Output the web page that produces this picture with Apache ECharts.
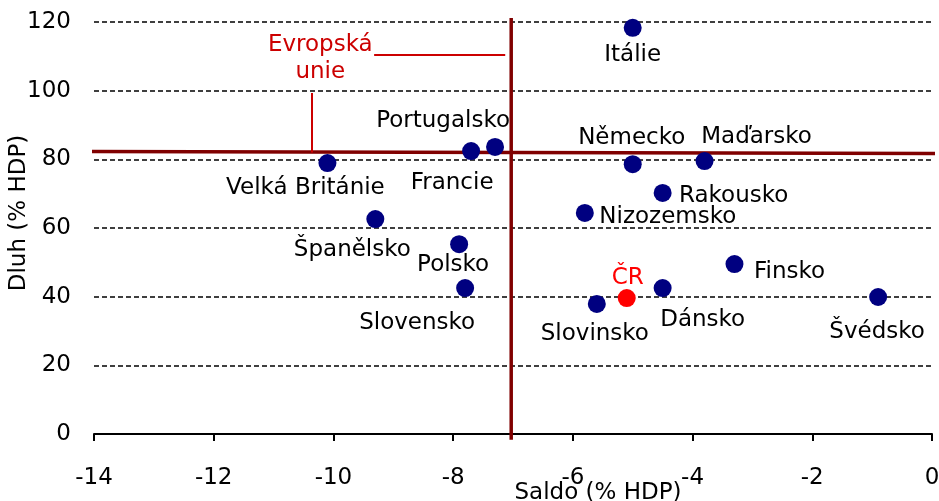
<!DOCTYPE html>
<html>
<head>
<meta charset="utf-8">
<script src="https://cdn.jsdelivr.net/npm/echarts@6/dist/echarts.min.js"></script>
<style>
  html, body { margin: 0; padding: 0; background: #fff; }
  #chart { width: 939px; height: 501px; }
</style>
</head>
<body>
<div id="chart"></div>
<script>
// countries: saldo (x) vs dluh (y), % HDP
const countries = ['Itálie', 'Portugalsko', 'Francie', 'Velká Británie', 'Španělsko', 'Polsko',
  'Slovensko', 'Slovinsko', 'Dánsko', 'Nizozemsko', 'Rakousko', 'Německo', 'Maďarsko',
  'Finsko', 'Švédsko'];
const saldo = [-5.0, -7.3, -7.7, -10.1, -9.3, -7.9, -7.8, -5.6, -4.5, -5.8, -4.5, -5.0, -3.8, -3.3, -0.9];
const dluh = [118.3, 83.6, 82.4, 78.9, 62.6, 55.3, 42.5, 37.9, 42.5, 64.4, 70.2, 78.6, 79.5, 49.5, 39.9];

const crName = 'ČR';
const crSaldo = -5.1;
const crDluh = 39.6;

// EU average (cross lines)
const euSaldo = -7.0;
const euDluh = 82;
const euHLine = [[-14.07, 82.3], [0.05, 81.7]];
const euVLine = [[-7.03, 121.2], [-7.03, -1.7]];

const xTicks = [-14, -12, -10, -8, -6, -4, -2, 0];
const yTicks = [0, 20, 40, 60, 80, 100, 120];

// label placement (pixel offsets from the dot centre)
const labelOffsets = {
  'Itálie': [0, 27],
  'Portugalsko': [-52, -26],
  'Francie': [-19, 32],
  'Velká Británie': [-22, 25],
  'Španělsko': [-23, 31],
  'Polsko': [-6, 21],
  'Slovensko': [-48, 35],
  'Slovinsko': [-2, 30],
  'Dánsko': [40, 32],
  'Nizozemsko': [83, 4],
  'Rakousko': [71, 3],
  'Německo': [-1, -26],
  'Maďarsko': [52, -24],
  'Finsko': [55, 8],
  'Švédsko': [-1, 35],
  'ČR': [1, -20]
};

const FONT = 'DejaVu Sans';
const FS = 23;

const chart = echarts.init(document.getElementById('chart'));

const points = countries.map((name, i) => ({
  name: name,
  value: [saldo[i], dluh[i]],
  label: { offset: labelOffsets[name] }
}));

const euLine = (data) => ({
  type: 'line',
  data: data,
  clip: false,
  silent: true,
  showSymbol: false,
  symbol: 'none',
  lineStyle: { color: '#800000', width: 3.5, opacity: 1 },
  z: 3
});

chart.setOption({
  animation: false,
  backgroundColor: '#fff',
  textStyle: { fontFamily: FONT },
  grid: { left: 94, right: 7, top: 22, bottom: 67, containLabel: false, outerBoundsMode: 'none' },
  xAxis: {
    type: 'value',
    min: xTicks[0],
    max: xTicks[xTicks.length - 1],
    interval: 2,
    name: 'Saldo (% HDP)',
    nameLocation: 'middle',
    nameGap: 48,
    nameMoveOverlap: false,
    nameTextStyle: { fontFamily: FONT, fontSize: FS, color: '#000', padding: [0, 0, 0, 170] },
    axisLine: { show: true, onZero: false, lineStyle: { color: '#000', width: 2 } },
    axisTick: { show: true, length: 7, lineStyle: { color: '#000', width: 2 } },
    axisLabel: { fontFamily: FONT, fontSize: FS, color: '#000', margin: 33 },
    splitLine: { show: false }
  },
  yAxis: {
    type: 'value',
    min: yTicks[0],
    max: yTicks[yTicks.length - 1],
    interval: 20,
    name: 'Dluh (% HDP)',
    nameLocation: 'middle',
    nameGap: 63,
    nameMoveOverlap: false,
    nameTextStyle: { fontFamily: FONT, fontSize: FS, color: '#000', padding: [0, 0, 0, 30] },
    axisLine: { show: false },
    axisTick: { show: false },
    axisLabel: { fontFamily: FONT, fontSize: FS, color: '#000', margin: 23 },
    splitLine: { show: true, lineStyle: { color: '#000', width: 1.5, type: [5, 3] } }
  },
  series: [
    euLine(euHLine),
    euLine(euVLine),
    {
      type: 'scatter',
      symbol: 'circle',
      symbolSize: 18,
      itemStyle: { color: '#000080', opacity: 1 },
      label: {
        show: true,
        position: 'inside',
        formatter: '{b}',
        fontFamily: FONT,
        fontSize: FS,
        color: '#000'
      },
      data: points,
      z: 5,
      markLine: {
        silent: true,
        symbol: 'none',
        animation: false,
        label: { show: false },
        lineStyle: { color: '#cc0000', width: 2, type: 'solid', opacity: 1 },
        data: [
          [{ coord: [-9.32, 110.4] }, { coord: [-7.13, 110.4] }],
          [{ coord: [-10.36, 99.3] }, { coord: [-10.36, euDluh] }]
        ]
      },
      markPoint: {
        silent: true,
        symbol: 'circle',
        symbolSize: 0,
        label: {
          show: true,
          position: 'inside',
          formatter: 'Evropská\nunie',
          fontFamily: FONT,
          fontSize: FS,
          lineHeight: 27,
          color: '#cc0000'
        },
        data: [{ coord: [-10.22, 109.4] }]
      }
    },
    {
      type: 'scatter',
      symbol: 'circle',
      symbolSize: 18,
      itemStyle: { color: '#ff0000', opacity: 1 },
      label: {
        show: true,
        position: 'inside',
        formatter: '{b}',
        fontFamily: FONT,
        fontSize: FS,
        color: '#ff0000',
        offset: labelOffsets[crName]
      },
      z: 6,
      data: [{ name: crName, value: [crSaldo, crDluh] }]
    }
  ]
});
</script>
</body>
</html>
